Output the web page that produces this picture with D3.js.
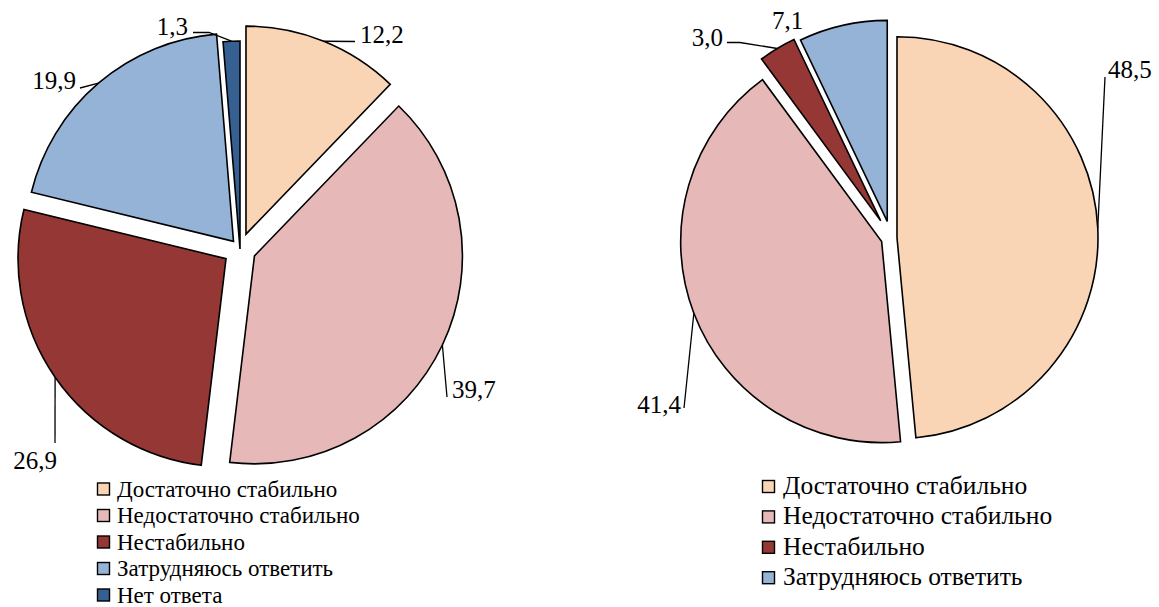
<!DOCTYPE html>
<html>
<head>
<meta charset="utf-8">
<script src="https://cdn.jsdelivr.net/npm/d3@7"></script>
<style>
  body { margin: 0; background: #fff; }
  svg { display: block; }
</style>
</head>
<body>
<svg id="chart" width="1159" height="607"></svg>
<script>
// Survey answers, percent
const categoriesLeft = ["Достаточно стабильно", "Недостаточно стабильно", "Нестабильно", "Затрудняюсь ответить", "Нет ответа"];
const valuesLeft = [12.2, 39.7, 26.9, 19.9, 1.3];

const categoriesRight = ["Достаточно стабильно", "Недостаточно стабильно", "Нестабильно", "Затрудняюсь ответить"];
const valuesRight = [48.5, 41.4, 3.0, 7.1];

const palette = ["#FAD5B5", "#E6B9B8", "#953735", "#95B3D7", "#376092"];

// Layout for the two pies: centre, radius, per-slice explode distance,
// label placement and leader elbows, legend block.
const layouts = [
  {
    categories: categoriesLeft, values: valuesLeft,
    cx: 240, cy: 249, r: 208,
    explode: [16, 16, 17, 10, 0],
    labels: [
      { x: 360, y: 43, anchor: "start", leader: [[355, 41.5]] },
      { x: 452, y: 398, anchor: "start", leader: [[447, 397]] },
      { x: 57, y: 469, anchor: "end", leader: [[55, 443]] },
      { x: 76, y: 89, anchor: "end", leader: [[80, 88]] },
      { x: 188, y: 35, anchor: "end", leader: [[209, 32.5], [193, 32.5]] }
    ],
    legend: { x: 97, y: 489.5, step: 26.5, text: 117, size: 23 }
  },
  {
    categories: categoriesRight, values: valuesRight,
    cx: 891, cy: 238, r: 201,
    explode: [6, 10, 20, 17],
    labels: [
      { x: 1108, y: 78, anchor: "start", leader: [[1105, 77]] },
      { x: 681, y: 413, anchor: "end", leader: [[684, 408]] },
      { x: 723, y: 46, anchor: "end", leader: [[740, 42.5], [727, 42.5]] },
      { x: 772, y: 29, anchor: "start", leader: null }
    ],
    legend: { x: 762, y: 487, step: 30.4, text: 783, size: 25.5 }
  }
];

const FONT = '"Times New Roman", "Liberation Serif", "DejaVu Serif", serif';

const svg = d3.select("#chart");
const fmt = v => d3.format(".1f")(v).replace(".", ",");

const pie = d3.pie().sort(null).value(d => d).startAngle(0).endAngle(2 * Math.PI);

layouts.forEach(L => {
  const arcs = pie(L.values);
  const arc = d3.arc().innerRadius(0).outerRadius(L.r);
  const g = svg.append("g").attr("transform", `translate(${L.cx},${L.cy})`);

  // direction of a slice's bisector (angle measured clockwise from 12 o'clock)
  const dir = a => {
    const m = (a.startAngle + a.endAngle) / 2;
    return [Math.sin(m), -Math.cos(m)];
  };

  arcs.forEach((a, i) => {
    const [ux, uy] = dir(a);
    const off = L.explode[i];
    const ox = ux * off, oy = uy * off;

    g.append("path")
      .attr("d", arc(a))
      .attr("transform", `translate(${ox},${oy})`)
      .attr("fill", palette[i])
      .attr("stroke", "#000")
      .attr("stroke-width", 1.6)
      .attr("stroke-linejoin", "miter");

    const lab = L.labels[i];
    if (lab.leader) {
      const ax = L.cx + ox + ux * L.r;
      const ay = L.cy + oy + uy * L.r;
      const pts = [[ax, ay]].concat(lab.leader);
      svg.append("path")
        .attr("d", d3.line()(pts))
        .attr("fill", "none")
        .attr("stroke", "#000")
        .attr("stroke-width", 1.3);
    }
    svg.append("text")
      .attr("x", lab.x)
      .attr("y", lab.y)
      .attr("text-anchor", lab.anchor)
      .style("font-family", FONT)
      .style("font-size", "25px")
      .attr("fill", "#000")
      .text(fmt(L.values[i]));
  });

  // legend
  const lg = svg.append("g");
  L.categories.forEach((c, i) => {
    const yc = L.legend.y + i * L.legend.step;
    lg.append("rect")
      .attr("x", L.legend.x + 0.5)
      .attr("y", yc - 6.5)
      .attr("width", 12)
      .attr("height", 12)
      .attr("fill", palette[i])
      .attr("stroke", "#000")
      .attr("stroke-width", 1.4);
    lg.append("text")
      .attr("x", L.legend.text)
      .attr("y", yc + 7)
      .style("font-family", FONT)
      .style("font-size", L.legend.size + "px")
      .attr("fill", "#000")
      .text(c);
  });
});
</script>
</body>
</html>
